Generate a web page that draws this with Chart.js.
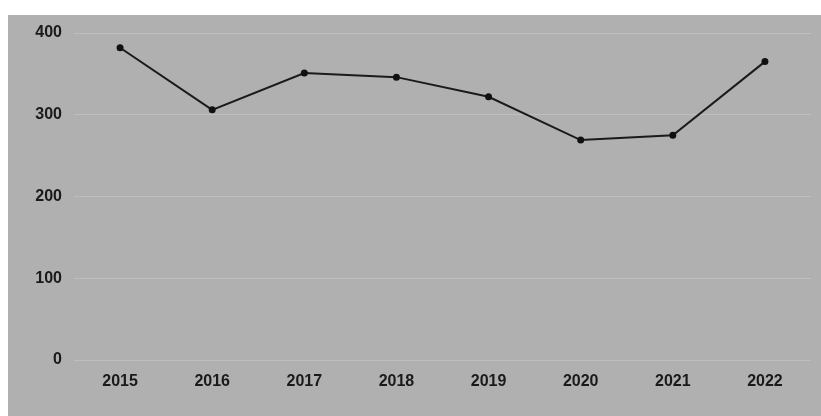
<!DOCTYPE html>
<html>
<head>
<meta charset="utf-8">
<script src="https://cdn.jsdelivr.net/npm/chart.js@4.4.0/dist/chart.umd.min.js"></script>
<style>
  html, body { margin: 0; padding: 0; background: #fff; }
  #wrap { width: 821px; height: 416px; position: relative; }
</style>
</head>
<body>
<div id="wrap"><canvas id="chart"></canvas></div>
<script>
const years = ['2015', '2016', '2017', '2018', '2019', '2020', '2021', '2022']
const values = [382, 306, 351, 346, 322, 269, 275, 365]
const yTicks = [0, 100, 200, 300, 400]

// gray scanned-paper backdrop
const backdrop = {
  id: 'backdrop',
  beforeDraw(chart) {
    const ctx = chart.ctx
    ctx.save()
    ctx.fillStyle = '#b0b0b0'
    ctx.fillRect(8, 15, chart.width - 8, chart.height - 15)
    ctx.restore()
  }
}

const tickFont = { family: 'Liberation Sans', size: 16, weight: 'bold' }

new Chart(document.getElementById('chart'), {
  type: 'line',
  data: {
    labels: years,
    datasets: [{
      data: values,
      borderColor: '#1a1a1a',
      borderWidth: 2,
      pointRadius: 2.5,
      pointBackgroundColor: '#111',
      pointBorderColor: '#111',
      tension: 0
    }]
  },
  options: {
    responsive: true,
    maintainAspectRatio: false,
    animation: false,
    layout: { padding: { top: 33, right: 10, bottom: 0, left: 0 } },
    plugins: { legend: { display: false }, tooltip: { enabled: false } },
    scales: {
      x: {
        offset: true,
        grid: { display: false, drawTicks: false },
        border: { display: false },
        ticks: { color: '#1a1a1a', padding: 12, font: tickFont },
        afterFit(scale) { scale.height = 56 }
      },
      y: {
        min: 0,
        max: 400,
        afterBuildTicks(scale) { scale.ticks = yTicks.map(v => ({ value: v })) },
        grid: { color: 'rgba(205,205,205,0.5)', lineWidth: 1, drawTicks: false },
        border: { display: false },
        ticks: { color: '#1a1a1a', padding: 12, font: tickFont },
        afterFit(scale) { scale.width = 74 }
      }
    }
  },
  plugins: [backdrop]
})
</script>
</body>
</html>
